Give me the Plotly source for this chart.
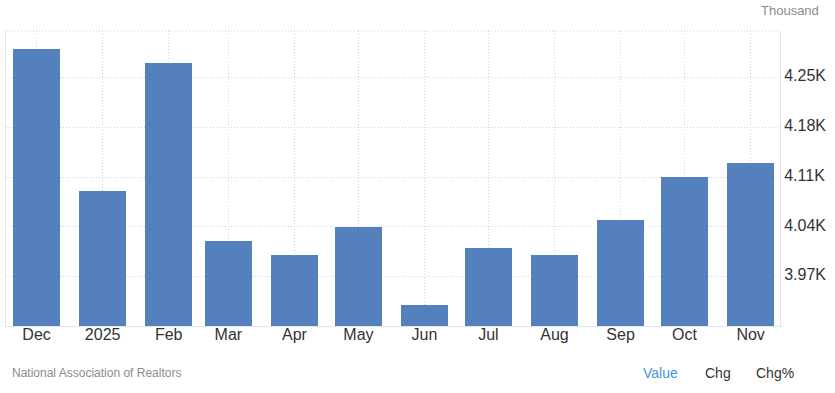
import plotly.graph_objects as go

months = ["2024-12-01", "2025-01-01", "2025-02-01", "2025-03-01", "2025-04-01", "2025-05-01",
          "2025-06-01", "2025-07-01", "2025-08-01", "2025-09-01", "2025-10-01", "2025-11-01"]
tick_labels = ["Dec", "2025", "Feb", "Mar", "Apr", "May", "Jun", "Jul", "Aug", "Sep", "Oct", "Nov"]
values = [4290, 4090, 4270, 4020, 4000, 4040, 3930, 4010, 4000, 4050, 4110, 4130]
y_ticks = [3970, 4040, 4110, 4180, 4250]
y_tick_labels = ["3.97K", "4.04K", "4.11K", "4.18K", "4.25K"]

FONT = "Liberation Sans, Arial, sans-serif"
BAR = "#5480bd"
GRID = "#d2d2d2"
GRID_DASH = "1px,2px"

fig = go.Figure()
fig.add_trace(go.Bar(
    x=months, y=values,
    width=[22 * 86400000] * len(months),
    marker=dict(color=BAR, line=dict(width=0)),
    hoverinfo="x+y",
))

L, R, T, B = 6, 55, 31, 67
W, H = 835, 393
pw, ph = W - L - R, H - T - B

def px(x):
    return (x - L) / pw

def py(y):
    return (H - B - y) / ph

fig.update_layout(
    width=W, height=H,
    margin=dict(l=L, r=R, t=T, b=B, pad=0),
    paper_bgcolor="white", plot_bgcolor="white",
    showlegend=False,
    bargap=0,
    font=dict(family=FONT, color="#333333"),
    xaxis=dict(
        type="date",
        range=["2024-11-16 16:00", "2025-11-14 19:00"],
        tickmode="array", tickvals=months, ticktext=tick_labels,
        showgrid=True, gridcolor=GRID, griddash=GRID_DASH, gridwidth=1,
        showline=True, linecolor="#e3e3e3", linewidth=1,
        ticks="", ticklabelstandoff=-6,
        tickfont=dict(size=16, color="#333333"),
        zeroline=False, fixedrange=True,
    ),
    yaxis=dict(
        side="right",
        range=[3901, 4315],
        tickmode="array", tickvals=y_ticks, ticktext=y_tick_labels,
        showgrid=True, gridcolor=GRID, griddash=GRID_DASH, gridwidth=1,
        showline=True, mirror=True, linecolor="#e3e3e3", linewidth=1,
        ticks="", ticklabelstandoff=0, ticklabelshift=-2,
        tickfont=dict(size=16, color="#333333"),
        zeroline=False, fixedrange=True,
    ),
    shapes=[dict(type="line", xref="paper", yref="paper", x0=0, x1=1, y0=1, y1=1,
                 line=dict(color=GRID, width=1, dash=GRID_DASH))],
    annotations=[
        dict(text="Thousand", xref="paper", yref="paper", x=px(821), y=py(11),
             xanchor="right", yanchor="middle", showarrow=False,
             font=dict(size=13, color="#8c8c8c", family=FONT)),
        dict(text="National Association of Realtors", xref="paper", yref="paper",
             x=px(10), y=py(373), xanchor="left", yanchor="middle", showarrow=False,
             font=dict(size=12, color="#8c8c8c", family=FONT)),
        dict(text="Value", xref="paper", yref="paper", x=px(641), y=py(373),
             xanchor="left", yanchor="middle", showarrow=False,
             font=dict(size=14, color="#4a90d9", family=FONT)),
        dict(text="Chg", xref="paper", yref="paper", x=px(703), y=py(373),
             xanchor="left", yanchor="middle", showarrow=False,
             font=dict(size=14, color="#333333", family=FONT)),
        dict(text="Chg%", xref="paper", yref="paper", x=px(754), y=py(373),
             xanchor="left", yanchor="middle", showarrow=False,
             font=dict(size=14, color="#333333", family=FONT)),
    ],
)

fig.write_html("out.html", config={"displayModeBar": False})
